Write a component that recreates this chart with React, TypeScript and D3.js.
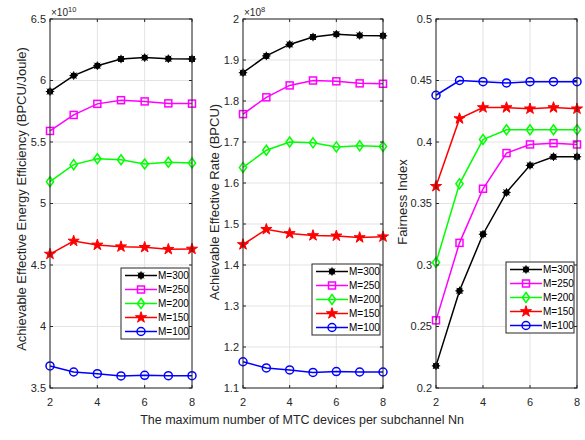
import React from "react";
import * as d3 from "d3";

const nn = [2, 3, 4, 5, 6, 7, 8];
const seriesNames = ["M=300", "M=250", "M=200", "M=150", "M=100"];

// energy efficiency, x1e10
const eeM300 = [5.91, 6.04, 6.12, 6.175, 6.186, 6.177, 6.175];
const eeM250 = [5.59, 5.72, 5.81, 5.84, 5.83, 5.814, 5.812];
const eeM200 = [5.177, 5.316, 5.364, 5.356, 5.321, 5.335, 5.329];
const eeM150 = [4.589, 4.695, 4.663, 4.649, 4.644, 4.628, 4.63];
const eeM100 = [3.679, 3.63, 3.616, 3.598, 3.603, 3.6, 3.6];

// effective rate, x1e8
const rateM300 = [1.869, 1.91, 1.938, 1.956, 1.963, 1.96, 1.959];
const rateM250 = [1.768, 1.809, 1.838, 1.85, 1.848, 1.843, 1.842];
const rateM200 = [1.638, 1.68, 1.7, 1.698, 1.688, 1.691, 1.689];
const rateM150 = [1.45, 1.487, 1.477, 1.472, 1.471, 1.467, 1.469];
const rateM100 = [1.164, 1.149, 1.144, 1.138, 1.14, 1.139, 1.139];

// fairness index
const fiM300 = [0.218, 0.279, 0.325, 0.359, 0.381, 0.388, 0.388];
const fiM250 = [0.255, 0.318, 0.362, 0.391, 0.398, 0.399, 0.398];
const fiM200 = [0.302, 0.366, 0.402, 0.41, 0.41, 0.41, 0.41];
const fiM150 = [0.364, 0.419, 0.428, 0.428, 0.427, 0.428, 0.427];
const fiM100 = [0.438, 0.45, 0.449, 0.448, 0.449, 0.449, 0.449];

const xTicks = [2, 4, 6, 8];
const eeTicks = [3.5, 4, 4.5, 5, 5.5, 6, 6.5];
const rateTicks = [1.1, 1.2, 1.3, 1.4, 1.5, 1.6, 1.7, 1.8, 1.9, 2];
const fiTicks = [0.2, 0.25, 0.3, 0.35, 0.4, 0.45, 0.5];

const colors = ["#000000", "#ff00ff", "#00ff00", "#ff0000", "#0000ff"];
const markers = ["dot", "square", "diamond", "star", "circle"];

const panels = [
  {
    left: 50, right: 192, ticks: eeTicks, fmt: (v: number) => String(v),
    series: [eeM300, eeM250, eeM200, eeM150, eeM100],
    label: "Achievable Effective Energy Efficiency (BPCU/Joule)", labelX: 21, labelY: 199,
    exp: "10", legendTop: 268,
  },
  {
    left: 243, right: 383, ticks: rateTicks, fmt: (v: number) => String(+v.toFixed(1)),
    series: [rateM300, rateM250, rateM200, rateM150, rateM100],
    label: "Achievable Effective Rate (BPCU)", labelX: 214, labelY: 202,
    exp: "8", legendTop: 264,
  },
  {
    left: 436, right: 577, ticks: fiTicks, fmt: (v: number) => String(+v.toFixed(2)),
    series: [fiM300, fiM250, fiM200, fiM150, fiM100],
    label: "Fairness Index", labelX: 402, labelY: 202,
    exp: null, legendTop: 262,
  },
];

const top = 19;
const bottom = 388;
const textColor = "#262626";

const Marker = ({ type, x, y, color }: { type: string; x: number; y: number; color: string }) => {
  if (type === "dot") {
    return (
      <g>
        <circle cx={x} cy={y} r={3.2} fill={color} />
        <path
          d={`M${x - 4.2},${y}H${x + 4.2}M${x},${y - 4.2}V${y + 4.2}M${x - 3},${y - 3}L${x + 3},${y + 3}M${x - 3},${y + 3}L${x + 3},${y - 3}`}
          stroke={color}
          strokeWidth={1}
        />
      </g>
    );
  }
  if (type === "square") {
    return <rect x={x - 3.5} y={y - 3.5} width={7} height={7} fill="none" stroke={color} strokeWidth={1.5} />;
  }
  if (type === "diamond") {
    return (
      <path d={`M${x},${y - 5}L${x + 3.6},${y}L${x},${y + 5}L${x - 3.6},${y}Z`} fill="none" stroke={color} strokeWidth={1.5} />
    );
  }
  if (type === "star") {
    const sym = d3.symbol(d3.symbolStar, 38)();
    return <path d={sym || ""} transform={`translate(${x},${y})`} fill={color} stroke={color} strokeWidth={1} />;
  }
  return <circle cx={x} cy={y} r={4} fill="none" stroke={color} strokeWidth={1.5} />;
};

const Panel = ({ p }: { p: (typeof panels)[number] }) => {
  const x = d3.scaleLinear().domain([2, 8]).range([p.left, p.right]);
  const y = d3.scaleLinear().domain([p.ticks[0], p.ticks[p.ticks.length - 1]]).range([bottom, top]);
  const line = d3
    .line<number>()
    .x((_, i) => x(nn[i]))
    .y((d) => y(d));
  const legendRight = p.right - 3;
  const legendLeft = legendRight - 68;
  const rowH = 14;
  return (
    <g>
      <rect x={p.left} y={top} width={p.right - p.left} height={bottom - top} fill="#fff" />
      {xTicks.map((t) => (
        <line key={"gx" + t} x1={x(t)} x2={x(t)} y1={top} y2={bottom} stroke="#e3e3e3" strokeWidth={1} />
      ))}
      {p.ticks.map((t) => (
        <line key={"gy" + t} x1={p.left} x2={p.right} y1={y(t)} y2={y(t)} stroke="#e3e3e3" strokeWidth={1} />
      ))}
      {p.series.map((s, k) => (
        <g key={k}>
          <path d={line(s) || ""} fill="none" stroke={colors[k]} strokeWidth={1.5} />
          {s.map((v, i) => (
            <Marker key={i} type={markers[k]} x={x(nn[i])} y={y(v)} color={colors[k]} />
          ))}
        </g>
      ))}
      <rect x={p.left} y={top} width={p.right - p.left} height={bottom - top} fill="none" stroke={textColor} strokeWidth={1} />
      {xTicks.map((t) => (
        <g key={"tx" + t}>
          <line x1={x(t)} x2={x(t)} y1={bottom} y2={bottom - 3} stroke={textColor} />
          <line x1={x(t)} x2={x(t)} y1={top} y2={top + 3} stroke={textColor} />
          <text x={x(t)} y={406} textAnchor="middle" fontSize={11} fill={textColor}>
            {t}
          </text>
        </g>
      ))}
      {p.ticks.map((t) => (
        <g key={"ty" + t}>
          <line x1={p.left} x2={p.left + 3} y1={y(t)} y2={y(t)} stroke={textColor} />
          <line x1={p.right} x2={p.right - 3} y1={y(t)} y2={y(t)} stroke={textColor} />
          <text x={p.left - 4} y={y(t)} dy="0.35em" textAnchor="end" fontSize={11} fill={textColor}>
            {p.fmt(t)}
          </text>
        </g>
      ))}
      {p.exp && (
        <text x={p.left + 1} y={16} fontSize={10} fill={textColor}>
          ×10
          <tspan dy={-4} fontSize={7.5}>
            {p.exp}
          </tspan>
        </text>
      )}
      <text
        transform={`translate(${p.labelX},${p.labelY}) rotate(-90)`}
        textAnchor="middle"
        dy="0.35em"
        fontSize={13}
        fill={textColor}
      >
        {p.label}
      </text>
      <g>
        <rect x={legendLeft} y={p.legendTop} width={68} height={rowH * 5 + 1} fill="#fff" stroke={textColor} strokeWidth={1} />
        {seriesNames.map((name, k) => {
          const cy = p.legendTop + 7.5 + k * rowH;
          return (
            <g key={name}>
              <line x1={legendLeft + 4} x2={legendLeft + 36} y1={cy} y2={cy} stroke={colors[k]} strokeWidth={1.5} />
              <Marker type={markers[k]} x={legendLeft + 20} y={cy} color={colors[k]} />
              <text x={legendLeft + 37} y={cy} dy="0.35em" fontSize={10} fill="#000">
                {name}
              </text>
            </g>
          );
        })}
      </g>
    </g>
  );
};

export default function App() {
  return (
    <svg
      width={585}
      height={440}
      style={{ position: "absolute", left: 0, top: 0, fontFamily: "'Liberation Sans', Arial, sans-serif" }}
    >
      <rect width={585} height={440} fill="#fff" />
      {panels.map((p, i) => (
        <Panel key={i} p={p} />
      ))}
      <text x={302} y={424} textAnchor="middle" fontSize={12.5} fill={textColor}>
        The maximum number of MTC devices per subchannel Nn
      </text>
    </svg>
  );
}
